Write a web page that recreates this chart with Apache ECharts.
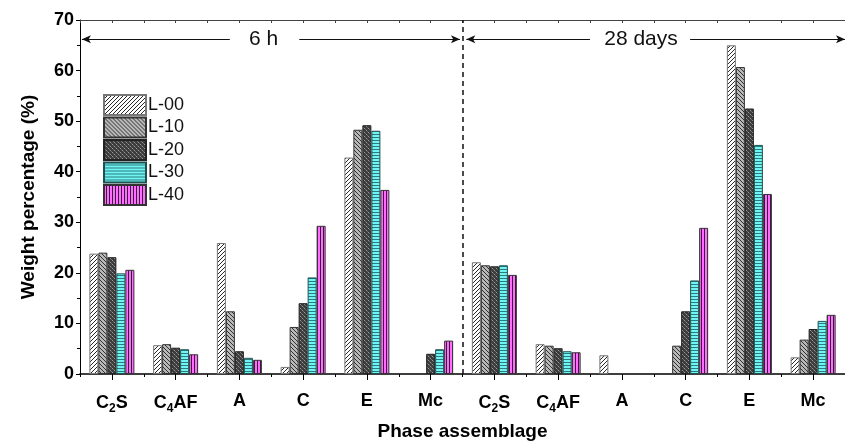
<!DOCTYPE html>
<html><head><meta charset="utf-8">
<script src="https://cdn.jsdelivr.net/npm/echarts@6/dist/echarts.min.js"></script>
<style>html,body{margin:0;padding:0;background:#fff}#c{width:845px;height:446px}</style>
</head><body><div id="c"></div>
<script>
// ---- data ----
const phases = ['C2S', 'C4AF', 'A', 'C', 'E', 'Mc'];
const periods = ['6 h', '28 days'];
const categories = periods.flatMap(p => phases.map(ph => p + '|' + ph));
const seriesNames = ['L-00', 'L-10', 'L-20', 'L-30', 'L-40'];
const L00 = [23.8, 5.7, 25.9, 1.4, 42.8, null, 22.1, 5.9, 3.7, null, 65.0, 3.3];
const L10 = [24.0, 5.9, 12.4, 9.3, 48.3, null, 21.5, 5.6, null, 5.6, 60.7, 6.8];
const L20 = [23.1, 5.2, 4.5, 14.0, 49.2, 4.0, 21.3, 5.1, null, 12.4, 52.5, 8.9];
const L30 = [19.9, 4.9, 3.2, 19.1, 48.1, 4.9, 21.5, 4.5, null, 18.5, 45.3, 10.5];
const L40 = [20.6, 3.9, 2.8, 29.3, 36.4, 6.6, 19.6, 4.3, null, 28.9, 35.6, 11.7];
const seriesValues = [L00, L10, L20, L30, L40];
const yTicks = [0, 10, 20, 30, 40, 50, 60, 70];

// ---- patterns ----
function mk(w, h, draw) {
  const c = document.createElement('canvas'); c.width = w; c.height = h;
  const g = c.getContext('2d'); draw(g); return c;
}
const pats = [
  mk(4, 4, g => { g.fillStyle = '#fff'; g.fillRect(0,0,4,4); g.strokeStyle = '#111'; g.lineWidth = 0.9;
    g.beginPath(); g.moveTo(0,4); g.lineTo(4,0); g.moveTo(-1,1); g.lineTo(1,-1); g.moveTo(3,5); g.lineTo(5,3); g.stroke(); }),
  mk(4, 4, g => { g.fillStyle = '#b8b8b8'; g.fillRect(0,0,4,4); g.strokeStyle = '#222'; g.lineWidth = 0.9;
    g.beginPath(); g.moveTo(0,0); g.lineTo(4,4); g.moveTo(-1,3); g.lineTo(1,5); g.moveTo(3,-1); g.lineTo(5,1); g.stroke(); }),
  mk(4, 4, g => { g.fillStyle = '#3c3c3c'; g.fillRect(0,0,4,4); g.fillStyle = '#9a9a9a';
    g.fillRect(0,0,1,1); g.fillRect(2,2,1,1); g.fillStyle = '#6a6a6a'; g.fillRect(1,1,1,1); g.fillRect(3,3,1,1); }),
  mk(4, 3, g => { g.fillStyle = '#6ff5f5'; g.fillRect(0,0,4,3); g.fillStyle = '#2d7a7a'; g.fillRect(0,2,4,1); }),
  mk(3, 4, g => { g.fillStyle = '#ff6cff'; g.fillRect(0,0,3,4); g.fillStyle = '#3a1a3a'; g.fillRect(2,0,1,4); })
];
const borders = ['#777', '#333', '#222', '#1f4f4f', '#333'];

const FONT = 'Liberation Sans, Arial, sans-serif';
const chart = echarts.init(document.getElementById('c'), null, { renderer: 'canvas' });

const barSeries = seriesNames.map((n, i) => ({
  name: n, type: 'bar', xAxisIndex: 0, yAxisIndex: 0,
  data: seriesValues[i], barWidth: 9, barGap: '0%',
  itemStyle: { color: { image: pats[i], repeat: 'repeat' }, borderColor: borders[i], borderWidth: 1 }
}));

const arrowLine = { color: '#111', width: 1, type: 'solid' };
const annot = {
  type: 'line', xAxisIndex: 1, yAxisIndex: 0, data: [], silent: true,
  markLine: {
    silent: true, animation: false,
    symbolSize: [6, 9],
    label: { show: false },
    lineStyle: arrowLine,
    data: [
      [{ coord: [0.03, 66.2], symbol: 'arrow' }, { coord: [2.35, 66.2], symbol: 'none' }],
      [{ coord: [3.44, 66.2], symbol: 'none' }, { coord: [5.96, 66.2], symbol: 'arrow' }],
      [{ coord: [6.06, 66.2], symbol: 'arrow' }, { coord: [8.0, 66.2], symbol: 'none' }],
      [{ coord: [9.57, 66.2], symbol: 'none' }, { coord: [12, 66.2], symbol: 'arrow' }],
      [{ coord: [6, 0], symbol: 'none', lineStyle: { type: [5, 4], width: 1.5, color: '#111' } }, { coord: [6, 70], symbol: 'none' }]
    ]
  },
  markPoint: {
    silent: true, animation: false, symbol: 'rect', symbolSize: 0,
    label: { show: true, position: 'inside', color: '#111', fontSize: 21, fontFamily: FONT, formatter: p => p.name },
    data: [
      { name: periods[0], coord: [2.88, 66.2] },
      { name: periods[1], coord: [8.8, 66.2] }
    ]
  }
};

function fmtPhase(v) {
  const ph = v.split('|')[1];
  if (ph === 'C2S') return '{b|C}{s|2}{b|S}';
  if (ph === 'C4AF') return '{b|C}{s|4}{b|AF}';
  return '{b|' + ph + '}';
}

chart.setOption({
  animation: false,
  backgroundColor: '#fff',
  grid: { left: 80, top: 20, width: 775, height: 357.5, containLabel: false },
  legend: {
    orient: 'vertical', left: 103, top: 94, padding: 0, itemWidth: 42, itemHeight: 20, itemGap: 0.5,
    icon: 'rect', data: seriesNames, selectedMode: false,
    textStyle: { fontSize: 18, lineHeight: 20, fontFamily: FONT, color: '#111', padding: [0, 0, 0, -3] }
  },
  xAxis: [
    { type: 'category', data: categories, position: 'bottom', boundaryGap: true,
      axisLine: { show: true, lineStyle: { color: '#000', width: 1.5 } },
      axisTick: { show: true, alignWithLabel: true, length: 6, inside: false, lineStyle: { color: '#000', width: 1 } },
      axisLabel: { interval: 0, margin: 18, formatter: fmtPhase,
        rich: { b: { fontSize: 18, fontWeight: 'bold', fontFamily: FONT, color: '#000' },
                s: { fontSize: 12, fontWeight: 'bold', fontFamily: FONT, color: '#000', padding: [11, 0, 0, 0] } } },
      name: 'Phase assemblage', nameLocation: 'middle', nameGap: 48,
      nameTextStyle: { fontSize: 19, fontWeight: 'bold', fontFamily: FONT, color: '#000' },
      splitLine: { show: false } },
    { type: 'value', min: 0, max: 12, interval: 1, position: 'bottom',
      axisLine: { show: false }, axisLabel: { show: false }, splitLine: { show: false },
      axisTick: { show: true, length: 3, lineStyle: { color: '#000' } } },
    { type: 'value', min: 0, max: 12, interval: 0.5, position: 'top',
      axisLine: { show: true, lineStyle: { color: '#444', width: 1 } }, axisLabel: { show: false }, splitLine: { show: false },
      axisTick: { show: true, inside: true, length: 3, lineStyle: { color: '#444' } } }
  ],
  yAxis: [
    { type: 'value', min: yTicks[0], max: yTicks[yTicks.length - 1], interval: 10,
      axisLine: { show: true, lineStyle: { color: '#000', width: 1 } },
      axisTick: { show: true, length: 4, lineStyle: { color: '#000' } },
      minorTick: { show: true, splitNumber: 2, length: 3, lineStyle: { color: '#000' } },
      splitLine: { show: false },
      axisLabel: { fontSize: 18, fontWeight: 'bold', fontFamily: FONT, color: '#000', margin: 6 },
      name: 'Weight percentage (%)', nameLocation: 'middle', nameGap: 42,
      nameTextStyle: { fontSize: 19, fontWeight: 'bold', fontFamily: FONT, color: '#000' } }
  ],
  series: [...barSeries, annot]
});
</script></body></html>
